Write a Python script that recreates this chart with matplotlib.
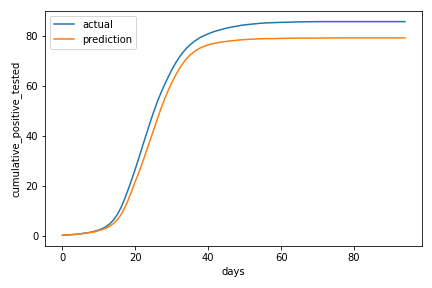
import matplotlib
matplotlib.use("Agg")
import matplotlib.pyplot as plt

# values
days = [0, 1, 2, 3, 4, 5, 6, 7, 8, 9,
        10, 11, 12, 13, 14, 15, 16, 17, 18, 19,
        20, 21, 22, 23, 24, 25, 26, 27, 28, 29,
        30, 31, 32, 33, 34, 35, 36, 37, 38, 39,
        40, 41, 42, 43, 44, 45, 46, 47, 48, 49,
        50, 52, 54, 56, 58, 60, 65, 70, 75, 80,
        85, 90, 94]

actual = [0.3, 0.4, 0.5, 0.6, 0.7, 0.9, 1.1, 1.3, 1.6, 2.0,
          2.4, 3.0, 3.8, 4.9, 6.4, 8.5, 11.2, 14.6, 18.5, 22.6,
          26.9, 31.4, 36.1, 40.7, 45.2, 49.6, 53.6, 57.2, 60.5, 63.6,
          66.5, 69.1, 71.4, 73.4, 75.1, 76.5, 77.7, 78.7, 79.6, 80.3,
          80.9, 81.5, 82.0, 82.4, 82.8, 83.2, 83.5, 83.8, 84.0, 84.3,
          84.5, 84.8, 85.1, 85.3, 85.4, 85.5, 85.7, 85.8, 85.8, 85.8,
          85.8, 85.8, 85.8]

prediction = [0.3, 0.4, 0.5, 0.6, 0.7, 0.9, 1.1, 1.3, 1.5, 1.8,
              2.2, 2.6, 3.2, 4.0, 5.0, 6.4, 8.4, 11.0, 14.3, 18.1,
              21.9, 25.6, 29.6, 33.8, 38.1, 42.4, 46.7, 50.9, 54.7, 58.2,
              61.4, 64.2, 66.8, 69.0, 70.9, 72.4, 73.6, 74.6, 75.4, 76.0,
              76.5, 76.9, 77.2, 77.5, 77.7, 77.9, 78.1, 78.2, 78.4, 78.5,
              78.6, 78.8, 78.9, 79.0, 79.0, 79.1, 79.2, 79.2, 79.3, 79.3,
              79.3, 79.3, 79.3]

fig, ax = plt.subplots(figsize=(6, 4), dpi=72)
fig.subplots_adjust(left=0.105, right=0.977, bottom=0.146, top=0.962)

ax.plot(days, actual, label="actual", color="#1f77b4", linewidth=1.5)
ax.plot(days, prediction, label="prediction", color="#ff7f0e", linewidth=1.5)

ax.set_xlabel("days")
ax.set_ylabel("cumulative_positive_tested")
ax.legend(loc="upper left")

fig.savefig("out.png", dpi=72)
